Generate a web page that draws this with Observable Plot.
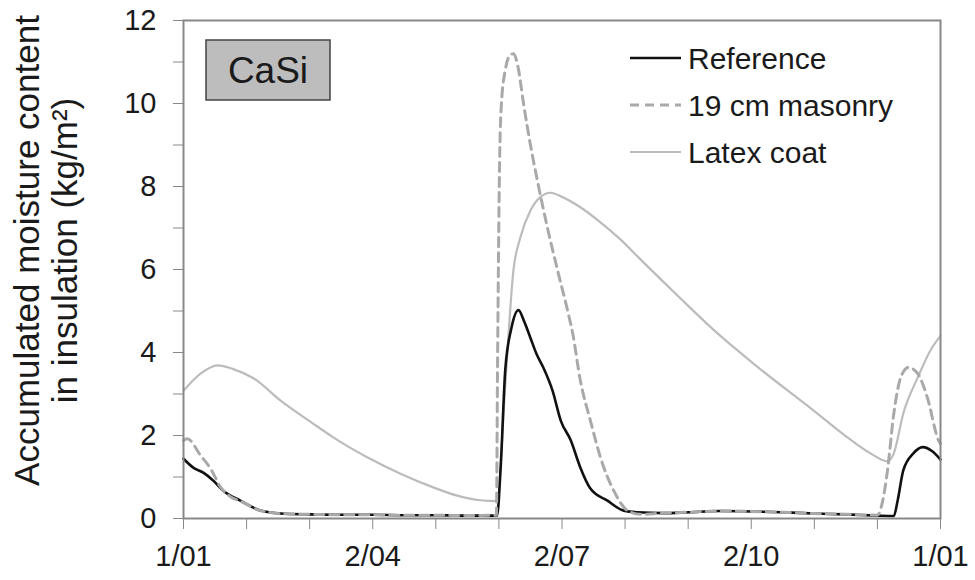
<!DOCTYPE html>
<html>
<head>
<meta charset="utf-8">
<script src="https://cdn.jsdelivr.net/npm/d3@7"></script>
<script src="https://cdn.jsdelivr.net/npm/@observablehq/plot@0.6"></script>
<style>
  html, body { margin: 0; padding: 0; background: #fff; }
</style>
</head>
<body>
<div id="chart"></div>
<script>
// ---- Series metadata ----
const seriesNames  = ["Reference", "19 cm masonry", "Latex coat"];
const seriesColors = ["#111111", "#a9a9a9", "#bcbcbc"];
const seriesDash   = [null, "9,6", null];
const seriesWidths = [2.6, 3, 2.2];

// ---- x in months since 1 January (0..12) ----
const refMonth = [0, 0.16, 0.32, 0.48, 0.63, 0.90, 1.22, 1.54, 2.0, 2.5, 3.0, 3.5, 4.0, 4.5, 4.97,
  5.03, 5.10, 5.20, 5.31, 5.40, 5.50, 5.60, 5.70, 5.85, 5.98, 6.14, 6.29, 6.45, 6.72, 6.98, 7.20,
  7.6, 8.0, 8.5, 9.0, 9.5, 10.0, 10.5, 11.0, 11.26, 11.32, 11.41, 11.57, 11.72, 11.87, 12];
const refValue = [1.44, 1.22, 1.10, 0.90, 0.67, 0.43, 0.19, 0.12, 0.10, 0.09, 0.09, 0.08, 0.08, 0.07, 0.07,
  1.3, 3.57, 4.6, 5.02, 4.75, 4.35, 3.95, 3.65, 3.08, 2.36, 1.88, 1.23, 0.72, 0.43, 0.19, 0.15,
  0.13, 0.15, 0.18, 0.17, 0.15, 0.12, 0.10, 0.07, 0.06, 0.43, 1.16, 1.57, 1.72, 1.62, 1.42];

const masMonth = [0, 0.06, 0.27, 0.43, 0.59, 0.75, 0.90, 1.22, 1.54, 2.0, 2.5, 3.0, 3.5, 4.0, 4.5, 4.96,
  4.98, 5.01, 5.04, 5.10, 5.17, 5.23, 5.30, 5.39, 5.50, 5.61, 5.77, 5.93, 6.09, 6.17, 6.29, 6.45, 6.61,
  6.82, 7.04, 7.24, 7.6, 8.0, 8.5, 9.0, 9.5, 10.0, 10.5, 11.0, 11.08, 11.16, 11.26, 11.37, 11.49, 11.64,
  11.79, 11.97, 12];
const masValue = [1.88, 1.92, 1.52, 1.20, 0.75, 0.52, 0.42, 0.19, 0.12, 0.10, 0.09, 0.09, 0.08, 0.08, 0.07, 0.08,
  4.0, 8.5, 10.0, 10.8, 11.15, 11.2, 10.9, 10.0, 9.0, 8.14, 7.0, 5.98, 5.0, 4.46, 3.33, 2.36, 1.47,
  0.67, 0.19, 0.10, 0.13, 0.15, 0.18, 0.17, 0.15, 0.12, 0.10, 0.08, 0.4, 1.16, 2.53, 3.4, 3.64, 3.49,
  2.92, 1.88, 1.80];

const latMonth = [0, 0.27, 0.54, 0.79, 1.11, 1.54, 2.06, 2.38, 2.92, 3.44, 3.96, 4.34, 4.7, 4.97,
  5.10, 5.23, 5.34, 5.50, 5.66, 5.82, 6.0, 6.29, 6.60, 6.93, 7.24, 7.88, 8.40, 9.02,
  9.99, 10.53, 10.89, 11.16, 11.26, 11.41, 11.64, 11.84, 12];
const latValue = [3.08, 3.49, 3.69, 3.60, 3.38, 2.84, 2.28, 1.95, 1.47, 1.08, 0.75, 0.55, 0.44, 0.42,
  3.2, 5.98, 6.77, 7.42, 7.75, 7.85, 7.75, 7.50, 7.15, 6.72, 6.25, 5.30, 4.55, 3.75,
  2.60, 1.95, 1.57, 1.38, 1.57, 2.53, 3.40, 4.05, 4.40];

// ---- Axes ----
const xTicks = d3.range(0, 13);
const xTickLabels = {0: "1/01", 3: "2/04", 6: "2/07", 9: "2/10", 12: "1/01"};
const yTicks = d3.range(0, 13);
const yTitle = ["Accumulated moisture content", "in insulation (kg/m²)"];
const panelLabel = "CaSi";

const toRows = (ms, vs) => ms.map((m, i) => ({month: m, value: vs[i]}));
const refRows = toRows(refMonth, refValue);
const masRows = toRows(masMonth, masValue);
const latRows = toRows(latMonth, latValue);

function lineMark(rows, i) {
  return Plot.line(rows, {
    x: "month", y: "value", curve: "monotone-x",
    stroke: seriesColors[i], strokeWidth: seriesWidths[i],
    strokeDasharray: seriesDash[i] ?? undefined
  });
}

function legendMark(index, scales, values, dimensions) {
  const g = d3.create("svg:g")
    .attr("font-size", 30)
    .attr("text-anchor", "start")
    .attr("font-family", "'Liberation Sans', Arial, sans-serif");
  const x0 = dimensions.width - dimensions.marginRight - 310;
  seriesNames.forEach((name, i) => {
    const y = dimensions.marginTop + 38 + i * 47;
    g.append("line")
      .attr("x1", x0).attr("x2", x0 + 51).attr("y1", y).attr("y2", y)
      .attr("stroke", seriesColors[i]).attr("stroke-width", seriesWidths[i])
      .attr("stroke-dasharray", seriesDash[i]);
    g.append("text")
      .attr("x", x0 + 58).attr("y", y).attr("dy", "0.35em")
      .attr("text-anchor", "start")
      .attr("fill", "#1a1a1a").text(name);
  });
  return g.node();
}

function panelMark(index, scales, values, dimensions) {
  const g = d3.create("svg:g");
  const x = dimensions.marginLeft + 23, y = dimensions.marginTop + 20, w = 124, h = 60;
  g.append("rect").attr("x", x).attr("y", y).attr("width", w).attr("height", h)
    .attr("fill", "#bdbdbd").attr("stroke", "#444").attr("stroke-width", 1.5);
  g.append("text").attr("x", x + w / 2).attr("y", y + h / 2).attr("dy", "0.35em")
    .attr("text-anchor", "middle").attr("font-size", 37)
    .attr("font-family", "'Liberation Sans', Arial, sans-serif")
    .attr("fill", "#1a1a1a").text(panelLabel);
  return g.node();
}

const chart = Plot.plot({
  width: 975,
  height: 580,
  marginLeft: 183,
  marginRight: 35,
  marginTop: 20,
  marginBottom: 62,
  style: {fontFamily: "'Liberation Sans', Arial, sans-serif", fontSize: "29px", color: "#1a1a1a", background: "#fff"},
  x: {domain: [0, 12]},
  y: {domain: [0, 12]},
  marks: [
    Plot.axisX(xTicks, {anchor: "bottom", tickSize: 11, tickPadding: 16, stroke: "#888", fill: "#1a1a1a",
      tickFormat: d => xTickLabels[d] ?? "", fontSize: 29, label: null}),
    Plot.axisY(yTicks, {anchor: "left", tickSize: 10, tickPadding: 17, stroke: "#888", fill: "#1a1a1a",
      tickFormat: d => (d % 2 ? "" : String(d)), fontSize: 29, label: null}),
    lineMark(latRows, 2),
    lineMark(refRows, 0),
    lineMark(masRows, 1),
    Plot.frame({stroke: "#888", strokeWidth: 2}),
    Plot.text([yTitle.join("\n")], {
      frameAnchor: "left", rotate: -90, dx: -138, dy: -19,
      fontSize: 35, lineHeight: 1.09, textAnchor: "middle", lineAnchor: "middle", fill: "#1a1a1a"
    }),
    panelMark,
    legendMark
  ]
});
document.getElementById("chart").appendChild(chart);
</script>
</body>
</html>
